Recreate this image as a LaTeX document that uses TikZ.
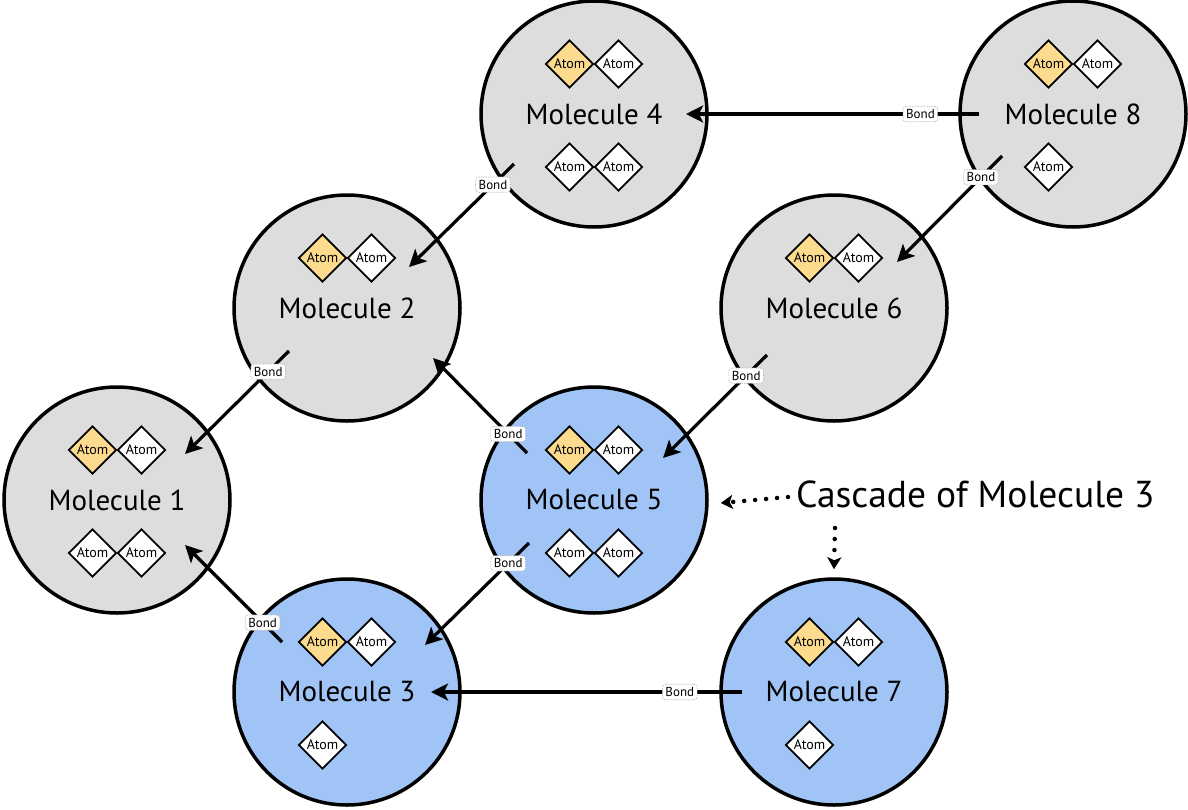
\documentclass[tikz,border=0pt]{standalone}
\usepackage{fontspec}
\setmainfont{PT Sans}
\usetikzlibrary{calc,arrows.meta,shapes.geometric}
\definecolor{molgray}{HTML}{DDDDDD}
\definecolor{molblue}{HTML}{A0C4F6}
\definecolor{atomyellow}{HTML}{FCDB8E}
\begin{document}
\begin{tikzpicture}[x=1pt,y=-1pt,
  mol/.style={circle, draw=black, line width=3.5pt, minimum size=226pt, inner sep=0pt, font=\fontsize{29}{32}\selectfont},
  grayfill/.style={fill=molgray},
  bluefill/.style={fill=molblue},
  atom/.style={diamond, draw=black, line width=1.8pt, fill=white, minimum width=48pt, minimum height=48pt, inner sep=0pt, font=\fontsize{14}{15}\selectfont},
  yatom/.style={atom, fill=atomyellow},
  bondline/.style={line width=3.2pt, -{Stealth[length=17pt,width=17pt,inset=4pt]}},
  bondlbl/.style={draw=gray!70, densely dotted, line width=0.7pt, fill=white, rounded corners=3pt, inner xsep=3pt, inner ysep=3pt, font=\fontsize{13}{14}\selectfont},
  cascarrow/.style={line width=4.5pt, line cap=round, dash pattern=on 0pt off 11pt, -{Stealth[length=12pt,width=14pt,inset=3pt]}}
]
\useasboundingbox (0,0) rectangle (1188,809);
% molecules
\node[mol,grayfill] (m1) at (117,500) {Molecule 1};
\node[mol,grayfill] (m2) at (347,308) {Molecule 2};
\node[mol,bluefill] (m3) at (347,692) {Molecule 3};
\node[mol,grayfill] (m4) at (594,114) {Molecule 4};
\node[mol,bluefill] (m5) at (594,500) {Molecule 5};
\node[mol,grayfill] (m6) at (834,308) {Molecule 6};
\node[mol,bluefill] (m7) at (834,692) {Molecule 7};
\node[mol,grayfill] (m8) at (1073,114) {Molecule 8};
% atoms
\node[yatom] (m1a) at ($(m1)+(-24.5,-50)$) {Atom};
\node[atom]  (m1b) at ($(m1)+(24.5,-50)$) {Atom};
\node[atom]  (m1c) at ($(m1)+(-24.5,53)$) {Atom};
\node[atom]  (m1d) at ($(m1)+(24.5,53)$) {Atom};
\node[yatom] (m2a) at ($(m2)+(-24.5,-50)$) {Atom};
\node[atom]  (m2b) at ($(m2)+(24.5,-50)$) {Atom};
\node[yatom] (m3a) at ($(m3)+(-24.5,-50)$) {Atom};
\node[atom]  (m3b) at ($(m3)+(24.5,-50)$) {Atom};
\node[atom]  (m3c) at ($(m3)+(-24.5,53)$) {Atom};
\node[yatom] (m4a) at ($(m4)+(-24.5,-50)$) {Atom};
\node[atom]  (m4b) at ($(m4)+(24.5,-50)$) {Atom};
\node[atom]  (m4c) at ($(m4)+(-24.5,53)$) {Atom};
\node[atom]  (m4d) at ($(m4)+(24.5,53)$) {Atom};
\node[yatom] (m5a) at ($(m5)+(-24.5,-50)$) {Atom};
\node[atom]  (m5b) at ($(m5)+(24.5,-50)$) {Atom};
\node[atom]  (m5c) at ($(m5)+(-24.5,53)$) {Atom};
\node[atom]  (m5d) at ($(m5)+(24.5,53)$) {Atom};
\node[yatom] (m6a) at ($(m6)+(-24.5,-50)$) {Atom};
\node[atom]  (m6b) at ($(m6)+(24.5,-50)$) {Atom};
\node[yatom] (m7a) at ($(m7)+(-24.5,-50)$) {Atom};
\node[atom]  (m7b) at ($(m7)+(24.5,-50)$) {Atom};
\node[atom]  (m7c) at ($(m7)+(-24.5,53)$) {Atom};
\node[yatom] (m8a) at ($(m8)+(-24.5,-50)$) {Atom};
\node[atom]  (m8b) at ($(m8)+(24.5,-50)$) {Atom};
\node[atom]  (m8c) at ($(m8)+(-24.5,53)$) {Atom};
% bonds
\draw[bondline] ($(m8)+(-94,0)$) -- ($(m4)+(92,0)$) node[bondlbl,pos=0.2] {Bond};
\draw[bondline] ($(m4)+(-80,50)$) -- ($(m2)+(62,-41)$) node[bondlbl,pos=0.2] {Bond};
\draw[bondline] ($(m8)+(-71,42)$) -- ($(m6)+(63,-46)$) node[bondlbl,pos=0.2] {Bond};
\draw[bondline] ($(m2)+(-58,43)$) -- ($(m1)+(68,-46)$) node[bondlbl,pos=0.2] {Bond};
\draw[bondline] ($(m5)+(-67,-47)$) -- ($(m2)+(86,50)$) node[bondlbl,pos=0.2] {Bond};
\draw[bondline] ($(m6)+(-67,47)$) -- ($(m5)+(69,-42)$) node[bondlbl,pos=0.2] {Bond};
\draw[bondline] ($(m5)+(-65,43)$) -- ($(m3)+(78,-47)$) node[bondlbl,pos=0.2] {Bond};
\draw[bondline] ($(m3)+(-65,-50)$) -- ($(m1)+(68,45)$) node[bondlbl,pos=0.2] {Bond};
\draw[bondline] ($(m7)+(-92,0)$) -- ($(m3)+(84,0)$) node[bondlbl,pos=0.2] {Bond};
% cascade
\node[anchor=west, inner sep=0pt, font=\fontsize{37.5}{40}\selectfont] (casc) at (796,494) {Cascade of Molecule 3};
\coordinate (cv) at (835,528);
\draw[cascarrow] ($(casc.west)+(-8,3)$) -- ($(m5.east)+(12,3)$);
\draw[cascarrow] (cv) -- ($(m7.north)+(0,-8)$);
\end{tikzpicture}
\end{document}
